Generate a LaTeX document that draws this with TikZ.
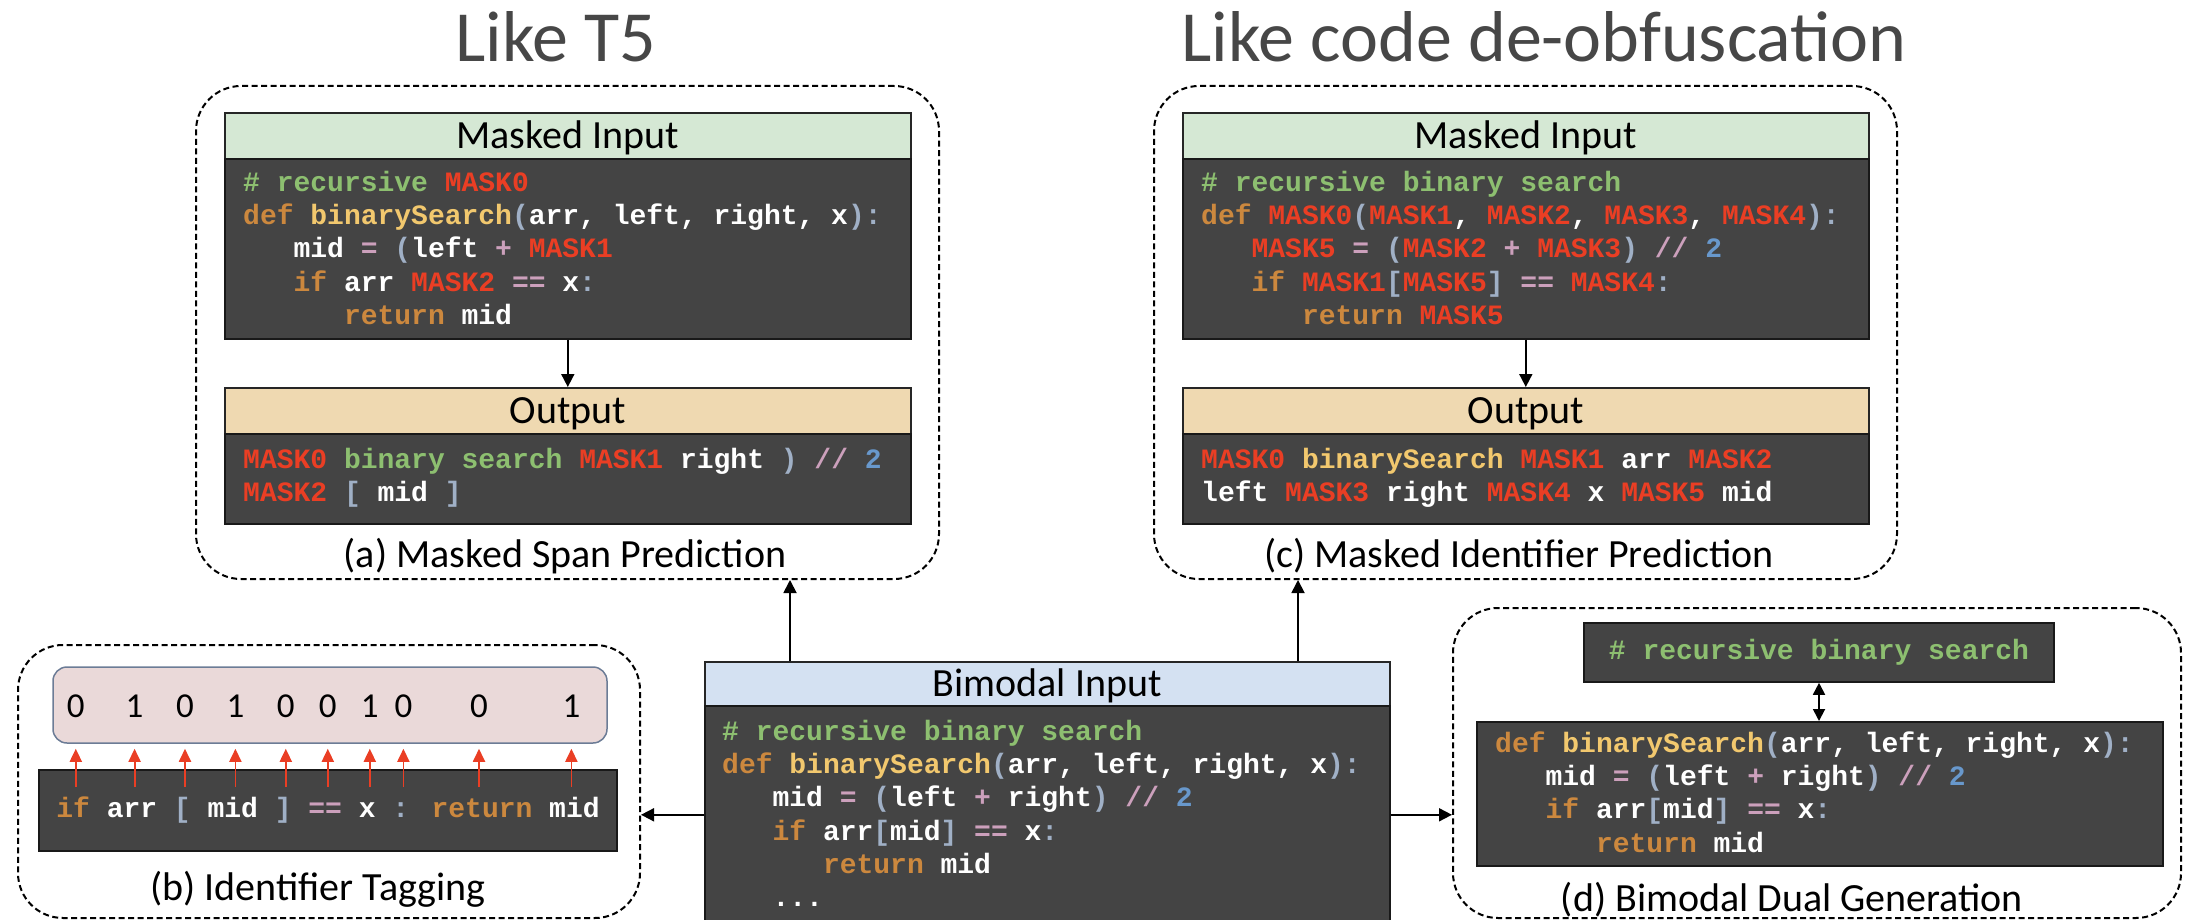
\documentclass[tikz,border=0pt]{standalone}
\usepackage{fontspec}
\setmainfont{Carlito}
\newfontfamily\codefamily{Liberation Mono}
\usetikzlibrary{arrows.meta,calc}

\definecolor{codebg}{RGB}{68,68,68}
\definecolor{cmcol}{RGB}{141,191,112}
\definecolor{kwcol}{RGB}{204,136,62}
\definecolor{fncol}{RGB}{242,200,110}
\definecolor{pucol}{RGB}{160,176,198}
\definecolor{opcol}{RGB}{204,160,188}
\definecolor{numcol}{RGB}{104,152,204}
\definecolor{maskcol}{RGB}{234,62,36}
\definecolor{maskhead}{RGB}{213,232,212}
\definecolor{outhead}{RGB}{239,217,177}
\definecolor{bimhead}{RGB}{212,225,242}
\definecolor{tagfill}{RGB}{234,217,217}
\definecolor{tagline}{RGB}{108,124,150}

% code listing helpers
\newcommand{\codefont}{\codefamily\bfseries\fontsize{28}{33.2}\selectfont}
\newcommand{\codeln}{\strut}
\newcommand{\indA}{\hspace*{1.8em}}
\newcommand{\indB}{\hspace*{3.6em}}
\newcommand{\ccm}[1]{\textcolor{cmcol}{#1}}
\newcommand{\ckw}[1]{\textcolor{kwcol}{#1}}
\newcommand{\cfn}[1]{\textcolor{fncol}{#1}}
\newcommand{\cpu}[1]{\textcolor{pucol}{#1}}
\newcommand{\cop}[1]{\textcolor{opcol}{#1}}
\newcommand{\cnum}[1]{\textcolor{numcol}{#1}}
\newcommand{\cmask}[1]{\textcolor{maskcol}{#1}}

\tikzset{
  grp/.style={draw=black, line width=2pt, dash pattern=on 6pt off 3.5pt, rounded corners=45pt, inner sep=0pt},
  headbox/.style={draw=black!85, line width=1.6pt, anchor=north west, inner sep=0pt, minimum width=686pt, minimum height=46pt, font=\fontsize{40}{48}\selectfont, text height=26pt, text depth=0pt},
  codebox/.style={draw=black!90, fill=codebg, line width=1.6pt, anchor=north west, inner sep=0pt, text=white, font=\codefont},
  codetext/.style={anchor=north west, inner sep=0pt, align=left, text=white, font=\codefont},
  arr/.style={line width=1.8pt, -{Triangle[length=13pt,width=13pt]}},
  dblarr/.style={line width=1.8pt, {Triangle[length=12pt,width=12pt]}-{Triangle[length=12pt,width=12pt]}},
  tagarr/.style={draw=maskcol, line width=1.8pt, -{Triangle[length=13pt,width=12pt]}, shorten >=5pt},
  caption/.style={anchor=base, inner sep=0pt, font=\fontsize{40}{48}\selectfont},
  heading/.style={anchor=base, inner sep=0pt, text=black!72, font=\fontsize{72}{80}\selectfont},
  digit/.style={inner sep=0pt, font=\fontsize{35}{40}\selectfont}
}

\begin{document}
\begin{tikzpicture}[x=1pt,y=1pt,yscale=-1,xscale=1]
    \useasboundingbox (0,0) rectangle (2187,920);

    % Text Node
    \node[heading] (title-a) at (556,62) {Like T5};
    % Text Node
    \node[heading] (title-c) at (1544,62) {Like code de-obfuscation};

    %Shape: Dashed group (a)
    \node[grp, minimum width=743pt, minimum height=493pt] (grp-a) at (567.5,332.5) {};
    %Shape: Rectangle
    \node[headbox, fill=maskhead] (a-head) at (224,112) {Masked Input};
    %Shape: Rectangle
    \node[codebox, minimum width=686pt, minimum height=180pt] (a-code) at (224,158) {};
    \node[codetext] (a-code-txt) at ($(a-code.north west)+(19,10)$) {%
      \codeln\ccm{\# recursive} \cmask{MASK0}\\
      \codeln\ckw{def} \cfn{binarySearch}\cpu{(}arr, left, right, x\cpu{):}\\
      \codeln\indA mid \cop{=} \cpu{(}left \cop{+} \cmask{MASK1}\\
      \codeln\indA\ckw{if} arr \cmask{MASK2} \cop{==} x\cpu{:}\\
      \codeln\indB\ckw{return} mid};
    %Shape: Rectangle
    \node[headbox, fill=outhead] (a-ohead) at (224,387) {Output};
    %Shape: Rectangle
    \node[codebox, minimum width=686pt, minimum height=90pt] (a-ocode) at (224,433) {};
    \node[codetext] (a-ocode-txt) at ($(a-ocode.north west)+(19,12)$) {%
      \codeln\cmask{MASK0} \ccm{binary search} \cmask{MASK1} right \cpu{)} \cop{//} \cnum{2}\\
      \codeln\cmask{MASK2} \cpu{[} mid \cpu{]}};
    %Straight Lines
    \draw[arr] (a-code.south) -- (a-ohead.north);
    % Text Node
    \node[caption] (cap-a) at (565,567) {(a) Masked Span Prediction};

    %Shape: Dashed group (c)
    \node[grp, minimum width=743pt, minimum height=493pt] (grp-c) at (1525.5,332.5) {};
    %Shape: Rectangle
    \node[headbox, fill=maskhead] (c-head) at (1182,112) {Masked Input};
    %Shape: Rectangle
    \node[codebox, minimum width=686pt, minimum height=180pt] (c-code) at (1182,158) {};
    \node[codetext] (c-code-txt) at ($(c-code.north west)+(19,10)$) {%
      \codeln\ccm{\# recursive binary search}\\
      \codeln\ckw{def} \cmask{MASK0}\cpu{(}\cmask{MASK1}, \cmask{MASK2}, \cmask{MASK3}, \cmask{MASK4}\cpu{):}\\
      \codeln\indA\cmask{MASK5} \cop{=} \cpu{(}\cmask{MASK2} \cop{+} \cmask{MASK3}\cpu{)} \cop{//} \cnum{2}\\
      \codeln\indA\ckw{if} \cmask{MASK1}\cpu{[}\cmask{MASK5}\cpu{]} \cop{==} \cmask{MASK4}\cpu{:}\\
      \codeln\indB\ckw{return} \cmask{MASK5}};
    %Shape: Rectangle
    \node[headbox, fill=outhead] (c-ohead) at (1182,387) {Output};
    %Shape: Rectangle
    \node[codebox, minimum width=686pt, minimum height=90pt] (c-ocode) at (1182,433) {};
    \node[codetext] (c-ocode-txt) at ($(c-ocode.north west)+(19,12)$) {%
      \codeln\cmask{MASK0} \cfn{binarySearch} \cmask{MASK1} arr \cmask{MASK2}\\
      \codeln left \cmask{MASK3} right \cmask{MASK4} x \cmask{MASK5} mid};
    %Straight Lines
    \draw[arr] (c-code.south) -- (c-ohead.north);
    % Text Node
    \node[caption] (cap-c) at (1519,567) {(c) Masked Identifier Prediction};

    %Shape: Bimodal input
    \node[headbox, fill=bimhead, minimum width=685pt, minimum height=44pt] (bim-head) at (704,661) {Bimodal Input};
    \node[codebox, minimum width=685pt, minimum height=218pt] (bim-code) at (704,705) {};
    \node[codetext] (bim-code-txt) at ($(bim-code.north west)+(18,12)$) {%
      \codeln\ccm{\# recursive binary search}\\
      \codeln\ckw{def} \cfn{binarySearch}\cpu{(}arr, left, right, x\cpu{):}\\
      \codeln\indA mid \cop{=} \cpu{(}left \cop{+} right\cpu{)} \cop{//} \cnum{2}\\
      \codeln\indA\ckw{if} arr\cpu{[}mid\cpu{]} \cop{==} x\cpu{:}\\
      \codeln\indB\ckw{return} mid\\
      \codeln\indA...};

    %Straight Lines
    \coordinate (bim-a) at ($(bim-head.north west)+(86,0)$);
    \coordinate (bim-c) at ($(bim-head.north west)+(594,0)$);
    \draw[arr] (bim-a) -- (bim-a |- grp-a.south);
    \draw[arr] (bim-c) -- (bim-c |- grp-c.south);

    %Shape: Dashed group (b)
    \node[grp, minimum width=622pt, minimum height=273pt] (grp-b) at (329,781.5) {};
    %Shape: Rounded Rectangle
    \node[draw=tagline, fill=tagfill, line width=1.5pt, rounded corners=14pt, minimum width=554pt, minimum height=76pt, inner sep=0pt] (tagbox) at (330,705) {};
    %Shape: Rectangle
    \node[codebox, anchor=center, minimum width=578pt, minimum height=81pt] (b-code) at (328,810.5) {\ckw{if} arr \cpu{[} mid \cpu{]} \cop{==} x \cpu{:} \ckw{return} mid};
    % Text Node
    \node[digit] (d1) at (75.8,706) {0};
    \node[digit] (d2) at (134.6,706) {1};
    \node[digit] (d3) at (185,706) {0};
    \node[digit] (d4) at (235.4,706) {1};
    \node[digit] (d5) at (285.8,706) {0};
    \node[digit] (d6) at (327.8,706) {0};
    \node[digit] (d7) at (369.8,706) {1};
    \node[digit] (d8) at (403.4,706) {0};
    \node[digit] (d9) at (479,706) {0};
    \node[digit] (d10) at (571.4,706) {1};
    %Straight Lines
    \coordinate (t1) at (75.8,787);
    \coordinate (t2) at (134.6,787);
    \coordinate (t3) at (185,787);
    \coordinate (t4) at (235.4,787);
    \coordinate (t5) at (285.8,787);
    \coordinate (t6) at (327.8,787);
    \coordinate (t7) at (369.8,787);
    \coordinate (t8) at (403.4,787);
    \coordinate (t9) at (479,787);
    \coordinate (t10) at (571.4,787);
    \draw[tagarr] (t1) -- (t1 |- tagbox.south);
    \draw[tagarr] (t2) -- (t2 |- tagbox.south);
    \draw[tagarr] (t3) -- (t3 |- tagbox.south);
    \draw[tagarr] (t4) -- (t4 |- tagbox.south);
    \draw[tagarr] (t5) -- (t5 |- tagbox.south);
    \draw[tagarr] (t6) -- (t6 |- tagbox.south);
    \draw[tagarr] (t7) -- (t7 |- tagbox.south);
    \draw[tagarr] (t8) -- (t8 |- tagbox.south);
    \draw[tagarr] (t9) -- (t9 |- tagbox.south);
    \draw[tagarr] (t10) -- (t10 |- tagbox.south);
    % Text Node
    \node[caption] (cap-b) at (318,900) {(b) Identifier Tagging};

    %Shape: Dashed group (d)
    \node[grp, minimum width=728pt, minimum height=310pt] (grp-d) at (1817,763) {};
    %Shape: Rectangle
    \node[codebox, anchor=center, minimum width=470pt, minimum height=59pt] (d-top) at (1819,652.5) {\ccm{\# recursive binary search}};
    %Shape: Rectangle
    \node[codebox, minimum width=686pt, minimum height=144pt] (d-code) at (1476,721) {};
    \node[codetext] (d-code-txt) at ($(d-code.north west)+(19,8)$) {%
      \codeln\ckw{def} \cfn{binarySearch}\cpu{(}arr, left, right, x\cpu{):}\\
      \codeln\indA mid \cop{=} \cpu{(}left \cop{+} right\cpu{)} \cop{//} \cnum{2}\\
      \codeln\indA\ckw{if} arr\cpu{[}mid\cpu{]} \cop{==} x\cpu{:}\\
      \codeln\indB\ckw{return} mid};
    %Straight Lines
    \draw[dblarr] (d-top.south) -- (d-top.south |- d-code.north);
    % Text Node
    \node[caption] (cap-d) at (1792,911) {(d) Bimodal Dual Generation};

    %Straight Lines
    \draw[arr] (bim-code.west) -- (bim-code.west -| grp-b.east);
    \draw[arr] (bim-code.east) -- (bim-code.east -| grp-d.west);

\end{tikzpicture}
\end{document}
